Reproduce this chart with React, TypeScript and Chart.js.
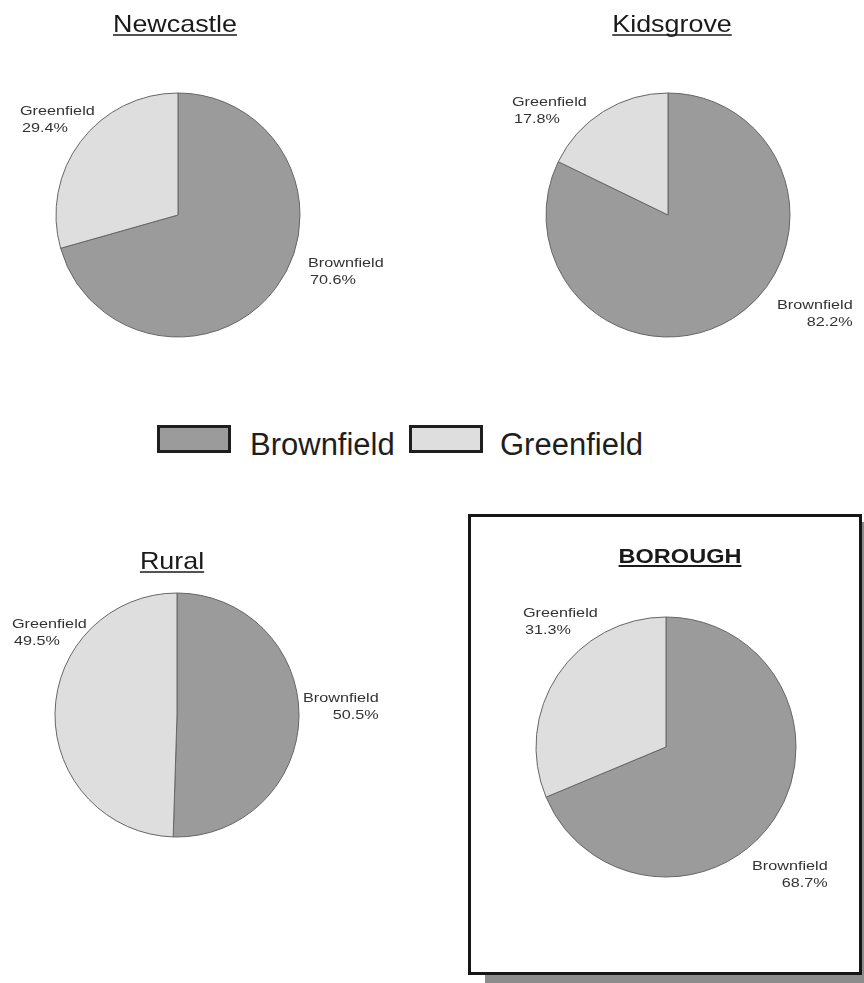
import React, { useEffect, useRef } from "react";
import { Chart, registerables } from "chart.js";

Chart.register(...registerables);

// ---- data ----
const categories = ["Brownfield", "Greenfield"];
const newcastleValues = [70.6, 29.4];
const kidsgroveValues = [82.2, 17.8];
const ruralValues = [50.5, 49.5];
const boroughValues = [68.7, 31.3];
const panelTitles = ["Newcastle", "Kidsgrove", "Rural", "BOROUGH"];

// ---- styles ----
const BROWN = "#9b9b9b";
const GREEN = "#dedede";
const EDGE = "#666666";
const FONT = '"Liberation Sans", Arial, Helvetica, sans-serif';

type LabelPos = { x: number; y: number; align2: "left" | "right" };
type Panel = {
  title: string;
  bold: boolean;
  values: number[];
  box: { x: number; y: number; w: number; h: number };
  cx: number;
  cy: number;
  r: number;
  titleX: number;
  titleY: number;
  titleSize: number;
  labels: LabelPos[];
};

const panels: Panel[] = [
  {
    title: panelTitles[0], bold: false, values: newcastleValues,
    box: { x: 0, y: 0, w: 432, h: 380 }, cx: 178, cy: 215, r: 122,
    titleX: 175, titleY: 32, titleSize: 24,
    labels: [{ x: 308, y: 267, align2: "left" }, { x: 20, y: 115, align2: "left" }],
  },
  {
    title: panelTitles[1], bold: false, values: kidsgroveValues,
    box: { x: 432, y: 0, w: 432, h: 380 }, cx: 668, cy: 215, r: 122,
    titleX: 672, titleY: 32, titleSize: 24,
    labels: [{ x: 777, y: 309, align2: "right" }, { x: 512, y: 106, align2: "left" }],
  },
  {
    title: panelTitles[2], bold: false, values: ruralValues,
    box: { x: 0, y: 500, w: 432, h: 483 }, cx: 177, cy: 715, r: 122,
    titleX: 172, titleY: 569, titleSize: 24,
    labels: [{ x: 303, y: 702, align2: "right" }, { x: 12, y: 628, align2: "left" }],
  },
  {
    title: panelTitles[3], bold: true, values: boroughValues,
    box: { x: 464, y: 520, w: 400, h: 463 }, cx: 666, cy: 747, r: 130,
    titleX: 680, titleY: 563, titleSize: 21,
    labels: [{ x: 752, y: 870, align2: "right" }, { x: 523, y: 617, align2: "left" }],
  },
];

const BW = 1;

function makeTextPlugin(p: Panel) {
  return {
    id: "panelText",
    afterDraw(chart: any) {
      const ctx = chart.ctx as CanvasRenderingContext2D;
      ctx.save();
      ctx.translate(-p.box.x, -p.box.y);
      // title
      const sxT = 1.12;
      ctx.font = `${p.bold ? "bold " : ""}${p.titleSize}px ${FONT}`;
      ctx.fillStyle = "#1a1a1a";
      ctx.textBaseline = "alphabetic";
      ctx.textAlign = "left";
      const tw = ctx.measureText(p.title).width * sxT;
      const tx = p.titleX - tw / 2;
      ctx.save();
      ctx.translate(tx, p.titleY);
      ctx.scale(sxT, 1);
      ctx.fillText(p.title, 0, 0);
      ctx.restore();
      ctx.strokeStyle = "#1a1a1a";
      ctx.lineWidth = p.bold ? 2 : 1.5;
      ctx.beginPath();
      ctx.moveTo(tx, p.titleY + 3);
      ctx.lineTo(tx + tw, p.titleY + 3);
      ctx.stroke();

      // slice labels
      const sx = 1.2;
      ctx.font = `13.5px ${FONT}`;
      ctx.fillStyle = "#333333";
      const total = p.values.reduce((a, b) => a + b, 0);
      categories.forEach((cat, i) => {
        const lp = p.labels[i];
        const pct = ((p.values[i] / total) * 100).toFixed(1) + "%";
        const w1 = ctx.measureText(cat).width * sx;
        const w2 = ctx.measureText(pct).width * sx;
        ctx.save();
        ctx.translate(lp.x, lp.y);
        ctx.scale(sx, 1);
        ctx.fillText(cat, 0, 0);
        ctx.restore();
        const x2 = lp.align2 === "right" ? lp.x + w1 - w2 : lp.x + 2;
        ctx.save();
        ctx.translate(x2, lp.y + 17);
        ctx.scale(sx, 1);
        ctx.fillText(pct, 0, 0);
        ctx.restore();
      });
      ctx.restore();
    },
  };
}

function PiePanel({ p }: { p: Panel }) {
  const ref = useRef<HTMLCanvasElement>(null);
  useEffect(() => {
    if (!ref.current) return;
    const side = 2 * p.r + BW;
    const left = p.cx - side / 2 - p.box.x;
    const top = p.cy - side / 2 - p.box.y;
    const chart = new Chart(ref.current, {
      type: "pie",
      data: {
        labels: categories,
        datasets: [
          {
            data: p.values,
            backgroundColor: [BROWN, GREEN],
            borderColor: EDGE,
            borderWidth: BW,
          },
        ],
      },
      options: {
        animation: false,
        responsive: false,
        maintainAspectRatio: false,
        events: [],
        layout: {
          padding: {
            left,
            top,
            right: p.box.w - left - side,
            bottom: p.box.h - top - side,
          },
        },
        plugins: {
          legend: { display: false },
          title: { display: false },
          tooltip: { enabled: false },
        },
      },
      plugins: [makeTextPlugin(p)],
    });
    return () => chart.destroy();
  }, [p]);
  return (
    <canvas
      ref={ref}
      width={p.box.w}
      height={p.box.h}
      style={{
        position: "absolute",
        left: p.box.x,
        top: p.box.y,
        width: p.box.w,
        height: p.box.h,
      }}
    />
  );
}

function LegendItem({ x, label, color, textX }: { x: number; label: string; color: string; textX: number }) {
  return (
    <>
      <div
        style={{
          position: "absolute",
          left: x,
          top: 425,
          width: 74,
          height: 28,
          boxSizing: "border-box",
          border: "3px solid #1e1e1e",
          background: color,
        }}
      />
      <div
        style={{
          position: "absolute",
          left: textX,
          top: 429,
          fontFamily: FONT,
          fontSize: 31,
          lineHeight: "31px",
          color: "#1e1e1e",
          whiteSpace: "nowrap",
        }}
      >
        {label}
      </div>
    </>
  );
}

export default function App() {
  return (
    <div
      style={{
        position: "absolute",
        left: 0,
        top: 0,
        width: 864,
        height: 983,
        background: "#ffffff",
        overflow: "hidden",
      }}
    >
      {/* Borough frame with shadow */}
      <div
        style={{
          position: "absolute",
          left: 468,
          top: 514,
          width: 394,
          height: 461,
          boxSizing: "border-box",
          border: "3px solid #161616",
          background: "#ffffff",
          boxShadow: "17px 8px 0 #8c8c8c",
        }}
      />
      {panels.map((p) => (
        <PiePanel key={p.title} p={p} />
      ))}
      <LegendItem x={157} label={categories[0]} color={BROWN} textX={250} />
      <LegendItem x={409} label={categories[1]} color={GREEN} textX={500} />
    </div>
  );
}
